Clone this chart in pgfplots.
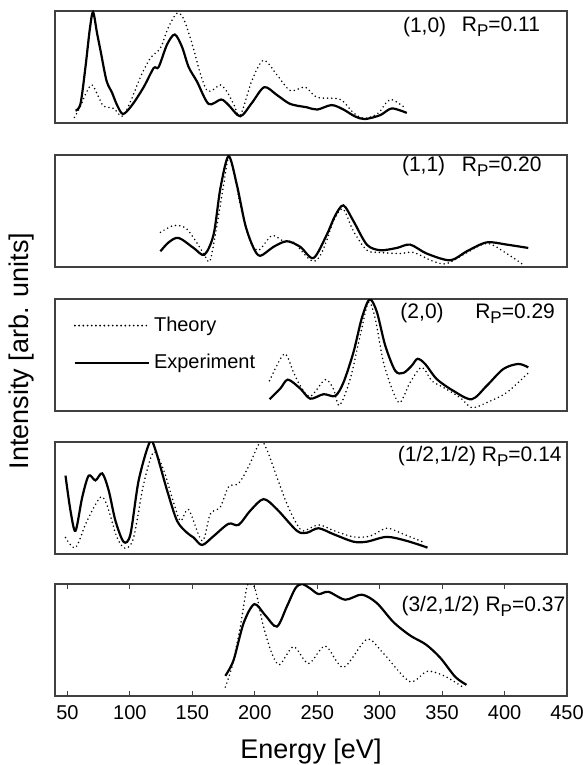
\documentclass[border=0pt]{standalone}
\usepackage{fontspec}
\setmainfont{Liberation Sans}
\usepackage{pgfplots}
\pgfplotsset{compat=1.18}
\pgfplotsset{
  panel/.style={scale only axis, width=256pt, height=56pt, xmin=40, xmax=450, ymin=0, ymax=1,
    xtick=\empty, ytick=\empty, axis line style={black!75, line width=0.6pt}, anchor=north west},
  theo/.style={black, line width=0.85pt, line cap=round, dash pattern=on 0pt off 2.1pt, smooth, tension=0.5},
  expt/.style={black, line width=1.1pt, smooth, tension=0.5},
}
\newcommand{\RP}{R\raisebox{-0.45ex}{\fontsize{8.5}{9}\selectfont P}}
\tikzset{lab/.style={anchor=west, inner sep=0pt, font=\fontsize{10.5}{12}\selectfont}}
\begin{document}
\begin{tikzpicture}
\useasboundingbox (0,0) rectangle (291.5pt,-382.5pt);
% Panel 1 (1,0)
\begin{axis}[panel, at={(27.5pt,-5.5pt)}]
\addplot[expt] coordinates {(56.4,0.11) (60.4,0.17) (64.4,0.50) (67.9,0.84) (70.5,0.99) (73.7,0.80) (76.4,0.65) (81.2,0.38) (85.7,0.27) (89.7,0.16) (94.5,0.08) (101.7,0.16) (111,0.32) (119,0.49) (123,0.50) (129.7,0.70) (135.9,0.79) (141.7,0.68) (147,0.50) (153.7,0.37) (163,0.17) (173,0.21) (179,0.16) (188.4,0.06) (197.7,0.18) (207.6,0.32) (217.7,0.25) (228.4,0.17) (241.7,0.14) (250,0.12) (261.5,0.16) (271,0.12) (280,0.06) (288,0.035) (300.4,0.07) (309.7,0.13) (321.7,0.09)};
\addplot[theo] coordinates {(55.6,0.05) (60.4,0.15) (65,0.27) (69.7,0.34) (75,0.23) (79,0.15) (87,0.13) (93.7,0.06) (100.4,0.19) (108.4,0.41) (116.4,0.58) (124.4,0.67) (131,0.86) (137.7,0.98) (143,0.93) (149.7,0.71) (156.4,0.44) (161.7,0.29) (167,0.30) (172.4,0.34) (177.7,0.28) (183,0.17) (188.4,0.07) (197.7,0.38) (207,0.56) (217.7,0.43) (228.4,0.29) (240.4,0.32) (249.7,0.23) (268.4,0.21) (279,0.09) (288,0.04) (299,0.09) (308.4,0.21) (321,0.13)};
\node[lab] at (axis description cs:0.679,0.86) {(1,0)};
\node[lab] at (axis description cs:0.794,0.86) {\RP=0.11};
\end{axis}
% Panel 2 (1,1)
\begin{axis}[panel, at={(27.5pt,-77.5pt)}]
\addplot[expt] coordinates {(124.4,0.14) (131,0.22) (139,0.26) (151,0.17) (159.6,0.11) (167,0.29) (172.4,0.70) (179,0.99) (185.7,0.73) (192.4,0.375) (199,0.17) (204.4,0.10) (215,0.18) (225.7,0.23) (236.4,0.18) (247,0.08) (257.7,0.29) (264.4,0.46) (271,0.55) (279,0.41) (289.7,0.20) (300.4,0.15) (313.7,0.17) (324.4,0.20) (337.7,0.12) (356.4,0.06) (369.7,0.14) (385.7,0.22) (401.7,0.20) (419,0.17)};
\addplot[theo] coordinates {(124.4,0.31) (135,0.37) (144.4,0.35) (151,0.26) (159,0.12) (163.9,0.05) (168.4,0.29) (175,0.73) (179,0.98) (183,0.85) (189.7,0.49) (196.4,0.23) (203,0.15) (213.7,0.28) (223,0.23) (231,0.22) (241.7,0.09) (247,0.05) (252.4,0.10) (258,0.25) (263,0.41) (270.5,0.52) (279,0.32) (289.7,0.15) (300.4,0.13) (316.4,0.12) (327,0.13) (343,0.05) (353.7,0.03) (367,0.11) (385.7,0.21) (401.7,0.12) (415,0.02)};
\node[lab] at (axis description cs:0.677,0.90) {(1,1)};
\node[lab] at (axis description cs:0.794,0.90) {\RP=0.20};
\end{axis}
% Panel 3 (2,0)
\begin{axis}[panel, at={(27.5pt,-149.5pt)},
  legend style={at={(axis description cs:0.036,0.88)}, anchor=north west, draw=none, fill=none,
    inner sep=0pt, row sep=6pt, font=\fontsize{10}{12}\selectfont},
  legend cell align=left,
  legend image code/.code={\draw[#1] (0pt,0pt) -- (34pt,0pt); \path (0pt,0pt) -- (37pt,0pt);}]
\addplot[theo] coordinates {(211.8,0.27) (223.6,0.51) (231,0.345) (236.4,0.225) (244.4,0.13) (256.4,0.28) (263,0.195) (267.8,0.05) (276.4,0.285) (284.4,0.675) (291,0.97) (296.4,0.826) (303,0.435) (311,0.165) (316.4,0.075) (324.4,0.255) (333.7,0.39) (341.7,0.27) (351,0.21) (364.4,0.12) (373.7,0.03) (385.7,0.075) (401.7,0.165) (419,0.34)};
\addlegendentry{Theory}
\addplot[expt] coordinates {(211.8,0.105) (220.4,0.20) (226.5,0.28) (236.4,0.20) (244.4,0.11) (255,0.15) (264.4,0.135) (271,0.255) (279,0.525) (285.7,0.83) (291.9,0.997) (297.7,0.886) (304.4,0.586) (312.4,0.36) (319,0.34) (325.7,0.405) (330.3,0.466) (336.4,0.42) (345.7,0.285) (359,0.18) (373.7,0.105) (385.7,0.225) (399,0.375) (411,0.42) (419,0.39)};
\addlegendentry{Experiment}
\node[lab] at (axis description cs:0.674,0.87) {(2,0)};
\node[lab] at (axis description cs:0.820,0.87) {\RP=0.29};
\end{axis}
% Panel 4 (1/2,1/2)
\begin{axis}[panel, at={(27.5pt,-221pt)}]
\addplot[expt] coordinates {(48.4,0.70) (52.4,0.387) (56.4,0.207) (61.8,0.507) (67,0.70) (72.4,0.657) (77.8,0.72) (83,0.567) (88.4,0.297) (95,0.108) (100.4,0.177) (107,0.657) (115.9,1.0) (120.4,0.93) (129.7,0.57) (137.7,0.297) (145.7,0.19) (151,0.147) (157.8,0.08) (167,0.16) (179,0.27) (187,0.26) (196.4,0.387) (207,0.49) (217.7,0.40) (233.7,0.207) (241.7,0.19) (251,0.23) (263,0.177) (279,0.11) (289.7,0.11) (305.7,0.153) (321.7,0.117) (338.3,0.057)};
\addplot[theo] coordinates {(48.4,0.147) (56.4,0.057) (65.7,0.297) (76.4,0.507) (81.8,0.43) (89.7,0.147) (96.4,0.05) (103,0.147) (111,0.627) (119,0.91) (127,0.75) (133.7,0.507) (140.4,0.297) (147,0.396) (157.8,0.117) (164.4,0.357) (172.4,0.42) (179,0.60) (187,0.63) (195,0.78) (204.4,1.0) (209.7,0.93) (217.7,0.687) (225.7,0.447) (233.7,0.267) (239,0.207) (251,0.26) (263,0.21) (279,0.153) (292.4,0.16) (305.7,0.23) (319,0.177) (336.4,0.10)};
\node[lab] at (axis description cs:0.669,0.87) {(1/2,1/2) \RP=0.14};
\end{axis}
% Panel 5 (3/2,1/2)
\begin{axis}[panel, at={(27.5pt,-292pt)},
  xtick={50,100,...,450}, tick align=inside, major tick length=2.5pt,
  tick style={black!75, line width=0.5pt},
  /pgf/number format/assume math mode=true,
  xticklabel style={font=\fontsize{10}{12}\selectfont, yshift=-1.2pt}]
\addplot[expt] coordinates {(176.4,0.18) (183,0.32) (191,0.65) (199.6,0.82) (208.4,0.72) (217.7,0.62) (225.7,0.80) (232.4,0.96) (237.7,1.0) (244.4,0.96) (251,0.91) (259,0.93) (272.4,0.86) (285.7,0.905) (297.7,0.83) (311,0.66) (324.4,0.54) (337,0.46) (348.6,0.34) (360.6,0.17) (369.5,0.10)};
\addplot[theo] coordinates {(176.4,0.08) (181.8,0.265) (188.4,0.62) (193.7,0.975) (196.9,1.0) (200.4,0.95) (207,0.62) (213.7,0.38) (219.9,0.28) (231,0.44) (243,0.29) (256.4,0.446) (271,0.256) (289.7,0.506) (303,0.38) (324,0.13) (338,0.22) (351.6,0.18) (368,0.07)};
\node[lab] at (axis description cs:0.676,0.80) {(3/2,1/2) \RP=0.37};
\end{axis}
\node[anchor=base, font=\fontsize{13.5}{16}\selectfont] at (155.5pt,-379pt) {Energy [eV]};
\node[anchor=base, rotate=90, font=\fontsize{13.5}{16}\selectfont] at (14pt,-175.5pt) {Intensity [arb. units]};
\end{tikzpicture}
\end{document}
